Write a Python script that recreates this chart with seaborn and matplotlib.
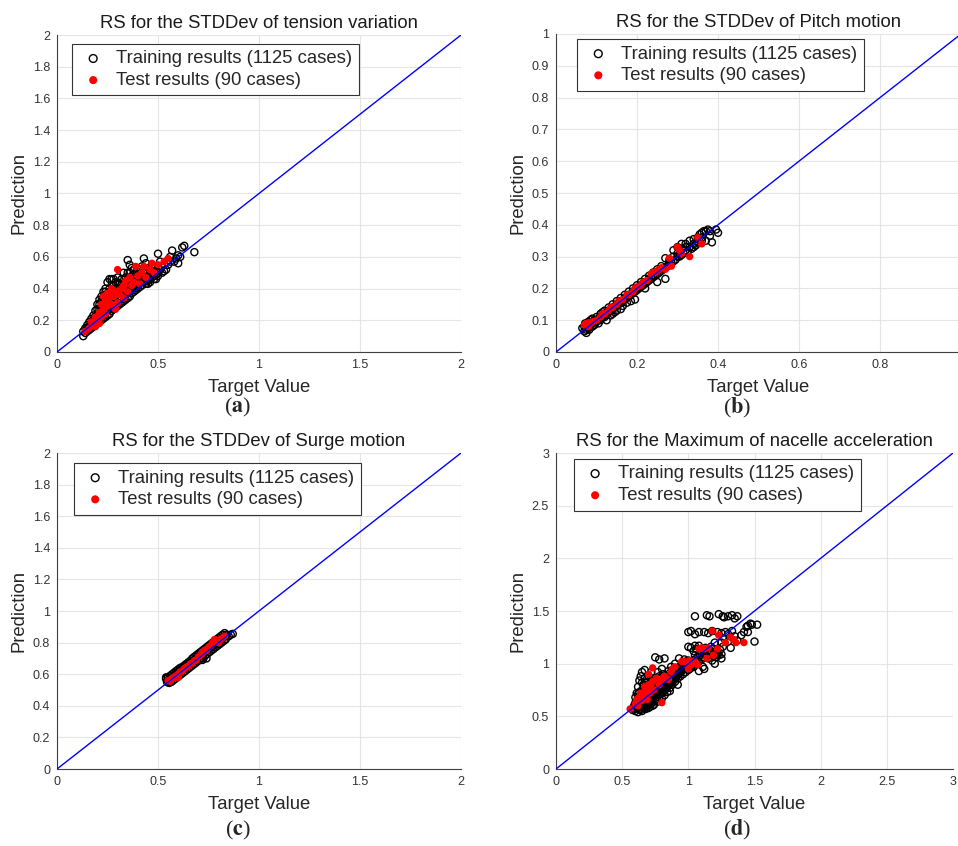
import matplotlib
matplotlib.use("Agg")
import matplotlib.pyplot as plt
import matplotlib.ticker as mticker
import seaborn as sns
import pandas as pd
import numpy as np

sns.set_style("white")
plt.rcParams["font.family"] = ["Liberation Sans", "DejaVu Sans"]
plt.rcParams["mathtext.fontset"] = "stix"

# ---------------- data ----------------
titles = ["RS for the STDDev of tension variation",
          "RS for the STDDev of Pitch motion",
          "RS for the STDDev of Surge motion",
          "RS for the Maximum of nacelle acceleration"]
captions = ["a", "b", "c", "d"]
train_label = "Training results (1125 cases)"
test_label = "Test results (90 cases)"
x_label = "Target Value"
y_label = "Prediction"

a_train = [(0.13,0.10),(0.13,0.13),(0.14,0.12),(0.14,0.15),(0.15,0.13),(0.15,0.17),(0.16,0.14),(0.16,0.19),
           (0.17,0.15),(0.17,0.21),(0.17,0.18),(0.18,0.16),(0.18,0.23),(0.18,0.20),(0.19,0.17),(0.19,0.26),
           (0.19,0.22),(0.20,0.18),(0.20,0.30),(0.20,0.24),(0.21,0.19),(0.21,0.33),(0.21,0.27),(0.22,0.20),
           (0.22,0.35),(0.22,0.29),(0.22,0.24),(0.23,0.21),(0.23,0.38),(0.23,0.31),(0.23,0.26),(0.24,0.22),
           (0.24,0.40),(0.24,0.34),(0.24,0.28),(0.25,0.23),(0.25,0.44),(0.25,0.37),(0.25,0.30),(0.26,0.24),
           (0.26,0.46),(0.26,0.40),(0.26,0.33),(0.27,0.26),(0.27,0.42),(0.27,0.35),(0.28,0.27),(0.28,0.46),
           (0.28,0.38),(0.28,0.31),(0.29,0.28),(0.29,0.44),(0.29,0.36),(0.30,0.29),(0.30,0.47),(0.30,0.40),
           (0.30,0.33),(0.31,0.30),(0.31,0.43),(0.31,0.37),(0.32,0.31),(0.32,0.46),(0.32,0.40),(0.32,0.34),
           (0.33,0.32),(0.33,0.50),(0.33,0.43),(0.33,0.37),(0.34,0.33),(0.34,0.47),(0.34,0.40),(0.35,0.34),
           (0.35,0.58),(0.35,0.50),(0.35,0.43),(0.35,0.38),(0.36,0.35),(0.36,0.46),(0.37,0.37),(0.37,0.53),
           (0.37,0.44),(0.38,0.38),(0.38,0.49),(0.38,0.42),(0.39,0.39),(0.39,0.46),(0.40,0.40),(0.40,0.52),
           (0.40,0.45),(0.41,0.41),(0.41,0.48),(0.42,0.42),(0.42,0.54),(0.43,0.59),(0.43,0.44),(0.43,0.50),
           (0.44,0.43),(0.44,0.47),(0.45,0.45),(0.45,0.53),(0.46,0.44),(0.46,0.49),(0.47,0.47),(0.47,0.55),
           (0.48,0.46),(0.48,0.51),(0.49,0.49),(0.50,0.62),(0.50,0.48),(0.50,0.53),(0.51,0.57),(0.52,0.50),
           (0.53,0.55),(0.54,0.52),(0.55,0.58),(0.56,0.60),(0.57,0.64),(0.58,0.57),(0.60,0.56),(0.60,0.61),
           (0.61,0.60),(0.62,0.66),(0.63,0.67),(0.68,0.63),(0.36,0.55),(0.39,0.50),(0.44,0.56),(0.27,0.46),
           (0.24,0.38),(0.30,0.44),
           (0.20,0.27),(0.21,0.22),(0.22,0.32),(0.23,0.34),(0.23,0.23),(0.24,0.30),(0.25,0.33),(0.25,0.26),
           (0.26,0.36),(0.26,0.29),(0.27,0.38),(0.27,0.31),(0.28,0.42),(0.28,0.34),(0.29,0.40),(0.29,0.32),
           (0.30,0.37),(0.31,0.33),(0.31,0.40),(0.32,0.37),(0.32,0.43),(0.33,0.35),(0.33,0.40),(0.34,0.37),
           (0.34,0.44),(0.35,0.40),(0.35,0.46),(0.36,0.38),(0.36,0.42),(0.36,0.50),(0.37,0.40),(0.37,0.48),
           (0.38,0.45),(0.38,0.52),(0.39,0.42),(0.39,0.43),(0.40,0.42),(0.40,0.48),(0.41,0.44),(0.41,0.52),
           (0.42,0.46),(0.42,0.44),(0.43,0.47),(0.44,0.45),(0.44,0.50),(0.45,0.48),(0.45,0.43),(0.46,0.47),
           (0.46,0.52),(0.47,0.50),(0.48,0.48),(0.48,0.53),(0.49,0.51),(0.49,0.46),(0.50,0.50),(0.51,0.52),
           (0.52,0.54),(0.53,0.51),(0.55,0.55),(0.56,0.57),(0.59,0.59),(0.19,0.19),(0.18,0.18),(0.17,0.16),
           (0.16,0.16),(0.15,0.15),(0.21,0.30),(0.20,0.21),(0.22,0.27),(0.24,0.26)]
a_test = [(0.14,0.13),(0.16,0.15),(0.17,0.19),(0.18,0.17),(0.19,0.22),(0.19,0.16),(0.20,0.20),(0.21,0.25),
          (0.21,0.18),(0.22,0.30),(0.22,0.22),(0.23,0.27),(0.24,0.32),(0.24,0.24),(0.25,0.29),(0.25,0.37),
          (0.26,0.34),(0.27,0.30),(0.27,0.40),(0.28,0.35),(0.29,0.38),(0.30,0.52),(0.30,0.31),(0.31,0.36),
          (0.32,0.40),(0.33,0.42),(0.33,0.34),(0.34,0.45),(0.35,0.38),(0.36,0.47),(0.37,0.42),(0.38,0.44),
          (0.39,0.54),(0.40,0.48),(0.41,0.43),(0.42,0.50),(0.43,0.54),(0.44,0.47),(0.46,0.52),(0.47,0.56),
          (0.48,0.50),(0.50,0.55),(0.53,0.57),(0.55,0.59),(0.29,0.27),(0.23,0.35)]

b_train = [(0.065,0.075),(0.07,0.065),(0.07,0.08),(0.072,0.09),(0.075,0.06),(0.075,0.07),(0.08,0.085),
           (0.08,0.095),(0.082,0.07),(0.085,0.10),(0.085,0.08),(0.09,0.09),(0.09,0.105),(0.095,0.085),
           (0.095,0.10),(0.10,0.11),(0.10,0.095),(0.105,0.105),(0.105,0.09),(0.11,0.12),(0.11,0.10),
           (0.115,0.11),(0.115,0.125),(0.12,0.115),(0.12,0.13),(0.125,0.12),(0.125,0.10),(0.13,0.14),
           (0.13,0.125),(0.135,0.13),(0.135,0.115),(0.14,0.15),(0.14,0.135),(0.145,0.14),(0.145,0.125),
           (0.15,0.16),(0.15,0.145),(0.15,0.13),(0.155,0.15),(0.16,0.17),(0.16,0.155),(0.165,0.16),
           (0.165,0.145),(0.17,0.18),(0.17,0.165),(0.175,0.17),(0.175,0.155),(0.18,0.19),(0.18,0.175),
           (0.185,0.18),(0.185,0.16),(0.19,0.20),(0.19,0.185),(0.195,0.19),(0.195,0.165),(0.20,0.21),
           (0.20,0.195),(0.205,0.20),(0.21,0.22),(0.21,0.205),(0.215,0.21),(0.22,0.23),(0.22,0.215),
           (0.225,0.22),(0.23,0.24),(0.23,0.225),(0.235,0.23),(0.24,0.25),(0.24,0.235),(0.245,0.24),
           (0.25,0.26),(0.25,0.245),(0.255,0.25),(0.26,0.27),(0.26,0.255),(0.265,0.26),(0.27,0.295),
           (0.27,0.265),(0.275,0.27),(0.28,0.29),(0.28,0.275),(0.285,0.28),(0.29,0.30),(0.29,0.285),
           (0.295,0.29),(0.30,0.31),(0.30,0.33),(0.305,0.30),(0.31,0.325),(0.31,0.305),(0.315,0.31),
           (0.32,0.34),(0.32,0.32),(0.325,0.315),(0.33,0.35),(0.33,0.33),(0.335,0.325),(0.34,0.355),
           (0.34,0.34),(0.345,0.335),(0.35,0.36),(0.35,0.345),(0.355,0.37),(0.36,0.375),(0.36,0.35),
           (0.365,0.38),(0.37,0.38),(0.37,0.35),(0.375,0.385),(0.38,0.38),(0.38,0.365),(0.395,0.385),
           (0.40,0.375),(0.385,0.345),(0.27,0.23),(0.25,0.22),
           (0.08,0.075),(0.09,0.08),(0.10,0.10),(0.11,0.105),(0.12,0.11),(0.13,0.13),(0.14,0.14),
           (0.15,0.15),(0.16,0.16),(0.17,0.17),(0.18,0.18),(0.19,0.19),(0.20,0.20),(0.21,0.21),
           (0.22,0.22),(0.23,0.23),(0.24,0.24),(0.26,0.26),(0.28,0.28),(0.30,0.30),(0.32,0.33),
           (0.34,0.33),(0.36,0.36),(0.16,0.135),(0.14,0.12),(0.22,0.20),(0.29,0.32),(0.31,0.34)]
b_test = [(0.07,0.085),(0.075,0.09),(0.08,0.08),(0.085,0.09),(0.09,0.095),(0.10,0.10),(0.11,0.11),
          (0.115,0.12),(0.12,0.12),(0.13,0.13),(0.135,0.14),(0.14,0.14),(0.15,0.15),(0.155,0.16),
          (0.165,0.165),(0.175,0.18),(0.18,0.18),(0.195,0.20),(0.20,0.205),(0.21,0.21),(0.215,0.22),
          (0.225,0.225),(0.235,0.245),(0.24,0.25),(0.245,0.25),(0.25,0.255),(0.26,0.265),(0.27,0.26),
          (0.28,0.295),(0.285,0.27),(0.30,0.33),(0.305,0.32),(0.31,0.31),(0.33,0.30),(0.35,0.36),
          (0.36,0.34),(0.255,0.26),(0.19,0.19)]

c_train = [(0.54,0.57),(0.54,0.58),(0.545,0.55),(0.55,0.56),(0.55,0.58),(0.555,0.545),(0.56,0.59),
           (0.56,0.57),(0.565,0.55),(0.57,0.58),(0.57,0.60),(0.575,0.56),(0.58,0.59),(0.58,0.61),
           (0.585,0.57),(0.59,0.60),(0.59,0.62),(0.595,0.58),(0.60,0.61),(0.60,0.63),(0.605,0.59),
           (0.61,0.62),(0.61,0.64),(0.615,0.60),(0.62,0.63),(0.62,0.645),(0.625,0.61),(0.63,0.64),
           (0.63,0.655),(0.635,0.62),(0.64,0.65),(0.64,0.665),(0.645,0.63),(0.65,0.66),(0.65,0.675),
           (0.655,0.64),(0.66,0.67),(0.66,0.685),(0.665,0.65),(0.67,0.68),(0.67,0.70),(0.675,0.66),
           (0.68,0.69),(0.68,0.71),(0.685,0.67),(0.69,0.70),(0.69,0.72),(0.695,0.68),(0.70,0.71),
           (0.70,0.73),(0.705,0.69),(0.71,0.72),(0.71,0.74),(0.715,0.70),(0.72,0.73),(0.72,0.75),
           (0.725,0.70),(0.73,0.74),(0.73,0.76),(0.735,0.72),(0.74,0.75),(0.74,0.77),(0.745,0.73),
           (0.75,0.76),(0.75,0.78),(0.755,0.74),(0.76,0.77),(0.76,0.79),(0.765,0.75),(0.77,0.78),
           (0.77,0.80),(0.775,0.76),(0.78,0.79),(0.78,0.81),(0.785,0.77),(0.79,0.80),(0.79,0.82),
           (0.795,0.78),(0.80,0.81),(0.80,0.83),(0.805,0.79),(0.81,0.82),(0.81,0.84),(0.815,0.80),
           (0.82,0.83),(0.82,0.85),(0.825,0.81),(0.83,0.84),(0.83,0.86),(0.835,0.82),(0.84,0.85),
           (0.85,0.84),(0.86,0.85),(0.87,0.855),(0.74,0.70),(0.72,0.69)]
c_test = [(0.55,0.56),(0.56,0.555),(0.57,0.575),(0.58,0.58),(0.59,0.59),(0.60,0.60),(0.61,0.615),
          (0.62,0.62),(0.63,0.635),(0.64,0.645),(0.65,0.65),(0.66,0.665),(0.67,0.67),(0.68,0.685),
          (0.69,0.69),(0.70,0.71),(0.71,0.72),(0.72,0.74),(0.73,0.75),(0.74,0.75),(0.75,0.77),
          (0.76,0.78),(0.77,0.80),(0.78,0.82),(0.79,0.81),(0.80,0.80),(0.81,0.82),(0.82,0.83),
          (0.83,0.84),(0.72,0.73),(0.60,0.58)]

d_train = [(0.58,0.56),(0.59,0.60),(0.60,0.55),(0.60,0.63),(0.60,0.68),(0.61,0.58),(0.61,0.72),(0.62,0.54),
           (0.62,0.62),(0.62,0.78),(0.63,0.57),(0.63,0.66),(0.63,0.84),(0.64,0.60),(0.64,0.70),(0.64,0.88),
           (0.65,0.55),(0.65,0.64),(0.65,0.75),(0.65,0.92),(0.66,0.58),(0.66,0.68),(0.66,0.80),(0.67,0.62),
           (0.67,0.72),(0.67,0.86),(0.67,0.94),(0.68,0.57),(0.68,0.66),(0.68,0.77),(0.69,0.60),(0.69,0.70),
           (0.69,0.83),(0.70,0.63),(0.70,0.74),(0.70,0.88),(0.71,0.59),(0.71,0.67),(0.71,0.79),(0.72,0.62),
           (0.72,0.71),(0.72,0.92),(0.73,0.65),(0.73,0.76),(0.73,0.85),(0.74,0.61),(0.74,0.69),(0.74,0.80),
           (0.75,0.66),(0.75,0.73),(0.75,1.06),(0.76,0.70),(0.76,0.84),(0.77,0.64),(0.77,0.76),(0.77,0.92),
           (0.78,0.68),(0.78,1.04),(0.78,0.80),(0.79,0.72),(0.79,0.87),(0.80,0.67),(0.80,0.76),(0.80,0.95),
           (0.81,0.73),(0.81,0.83),(0.82,0.70),(0.82,0.79),(0.82,1.05),(0.83,0.76),(0.83,0.88),(0.84,0.73),
           (0.84,0.82),(0.85,0.79),(0.85,0.93),(0.86,0.77),(0.86,0.86),(0.87,0.82),(0.87,0.97),(0.88,0.80),
           (0.88,0.89),(0.89,0.85),(0.90,0.83),(0.90,0.92),(0.90,1.00),(0.91,0.88),(0.92,0.86),(0.92,0.95),
           (0.93,0.90),(0.94,0.88),(0.94,0.98),(0.95,0.93),(0.96,0.90),(0.96,1.01),(0.97,0.95),(0.98,0.92),
           (0.98,1.02),(0.99,0.97),(1.00,0.94),(1.00,1.03),(1.00,1.16),(1.01,0.99),(1.02,0.96),(1.02,1.15),
           (1.03,1.01),(1.04,0.97),(1.04,1.12),(1.05,1.04),(1.06,1.00),(1.06,1.14),(1.07,1.06),(1.08,1.02),
           (1.08,1.17),(1.09,1.08),(1.10,1.04),(1.10,1.12),(1.11,0.97),(1.12,1.10),(1.13,1.15),(1.14,1.07),
           (1.15,1.12),(1.16,1.09),(1.17,1.16),(1.18,1.11),(1.18,1.03),(1.19,1.14),(1.20,1.10),(1.21,1.06),
           (1.22,1.12),(1.23,1.08),(1.24,1.13),(1.25,1.09),(1.26,1.16),
           (1.00,1.30),(1.02,1.31),(1.05,1.28),(1.08,1.30),(1.12,1.30),(1.15,1.29),(1.18,1.31),(1.22,1.30),
           (1.25,1.29),(1.28,1.30),(1.30,1.28),(1.33,1.31),(1.35,1.26),(1.37,1.22),(1.40,1.27),(1.42,1.30),
           (1.45,1.30),(1.50,1.21),(1.45,1.36),(1.47,1.38),(1.48,1.37),(1.52,1.37),(1.44,1.35),(1.30,1.21),
           (1.27,1.24),(1.20,1.20),(1.25,1.20),(1.32,1.15),
           (1.05,1.45),(1.14,1.46),(1.16,1.45),(1.23,1.47),(1.26,1.45),(1.30,1.45),(1.33,1.46),(1.35,1.43),
           (1.37,1.45),(1.27,1.44),
           (0.93,1.05),(0.97,1.04),(1.05,1.17),(1.08,0.93),(0.86,0.74),(0.92,0.80),(1.12,0.95),(1.20,1.00),
           (1.25,1.05),
           (0.60,0.60),(0.61,0.64),(0.62,0.58),(0.62,0.68),(0.63,0.61),(0.63,0.73),(0.64,0.56),(0.64,0.65),
           (0.65,0.60),(0.65,0.70),(0.65,0.82),(0.66,0.63),(0.66,0.74),(0.67,0.58),(0.67,0.67),(0.68,0.62),
           (0.68,0.71),(0.68,0.82),(0.69,0.65),(0.69,0.75),(0.70,0.58),(0.70,0.68),(0.70,0.80),(0.71,0.63),
           (0.71,0.73),(0.72,0.66),(0.72,0.76),(0.72,0.84),(0.73,0.70),(0.73,0.60),(0.74,0.73),(0.74,0.86),
           (0.75,0.70),(0.75,0.78),(0.76,0.66),(0.76,0.75),(0.77,0.70),(0.77,0.82),(0.78,0.74),(0.78,0.88),
           (0.79,0.78),(0.80,0.72),(0.80,0.82),(0.81,0.78),(0.81,0.90),(0.82,0.75),(0.82,0.85),(0.83,0.80),
           (0.84,0.78),(0.84,0.88),(0.85,0.83),(0.86,0.81),(0.86,0.91),(0.87,0.86),(0.88,0.84),(0.88,0.94),
           (0.89,0.89),(0.90,0.87),(0.91,0.93),(0.92,0.90),(0.93,0.94),(0.94,0.92),(0.95,0.97),(0.96,0.95),
           (0.97,0.99),(0.98,0.97),(0.99,1.01),(1.01,0.95),(1.03,0.98),(1.05,1.08),(1.07,1.03),(1.09,1.12),
           (1.11,1.06),(1.13,1.09),(1.15,1.05),(1.16,1.13),(1.19,1.07),(1.22,1.09),(0.62,0.71),(0.60,0.57)]
d_test = [(0.56,0.57),(0.60,0.62),(0.61,0.66),(0.62,0.60),(0.63,0.68),(0.64,0.72),(0.65,0.65),(0.66,0.70),
          (0.67,0.78),(0.68,0.74),(0.69,0.66),(0.70,0.80),(0.70,0.90),(0.71,0.72),(0.72,0.77),(0.73,0.96),
          (0.73,0.83),(0.74,0.75),(0.76,0.86),(0.78,0.80),(0.80,0.63),(0.80,0.85),(0.82,0.88),(0.85,0.85),
          (0.87,0.92),(0.88,0.95),(0.90,0.97),(0.95,1.02),(0.97,1.02),(1.00,0.95),(1.02,0.99),(1.05,1.02),
          (1.07,0.99),(1.08,1.14),(1.10,1.15),(1.12,1.14),(1.15,1.15),(1.14,1.05),(1.18,1.31),(1.19,1.08),
          (1.22,1.14),(1.23,1.27),(1.28,1.20),(1.32,1.25),(1.34,1.23),(1.36,1.20),(1.42,1.20),(1.01,1.03)]

limits = [2.0, 1.0, 2.0, 3.0]
x_ticks = [[0, 0.5, 1, 1.5, 2], [0, 0.2, 0.4, 0.6, 0.8], [0, 0.5, 1, 1.5, 2], [0, 0.5, 1, 1.5, 2, 2.5, 3]]
y_ticks = [[0, 0.2, 0.4, 0.6, 0.8, 1, 1.2, 1.4, 1.6, 1.8, 2],
           [0, 0.1, 0.2, 0.3, 0.4, 0.5, 0.6, 0.7, 0.8, 0.9, 1],
           [0, 0.2, 0.4, 0.6, 0.8, 1, 1.2, 1.4, 1.6, 1.8, 2],
           [0, 0.5, 1, 1.5, 2, 2.5, 3]]

# ---------------- layout ----------------
W, H = 958, 846
fig = plt.figure(figsize=(W / 100, H / 100), dpi=100)
# axes boxes in pixels: (left, top, right, bottom)
boxes = [(57, 35, 461, 352), (556, 34, 961, 352), (57, 453, 461, 769), (556, 453, 953, 769)]
legend_anchor = [(0.037, 0.972), (0.052, 0.984), (0.042, 0.968), (0.045, 0.981)]
caption_pos = [(238, 407), (737, 408), (238, 830), (737, 830)]

panels = [(a_train, a_test), (b_train, b_test), (c_train, c_test), (d_train, d_test)]
axis_col = "#404040"
fmt = mticker.FuncFormatter(lambda v, p: f"{v:g}")

for i, ((tr, te), box) in enumerate(zip(panels, boxes)):
    l, t, r, b = box
    ax = fig.add_axes([l / W, 1 - b / H, (r - l) / W, (b - t) / H])
    dtr = pd.DataFrame(tr, columns=["target", "pred"])
    dte = pd.DataFrame(te, columns=["target", "pred"])
    sns.scatterplot(data=dtr, x="target", y="pred", ax=ax, marker="o", s=26,
                    facecolors="none", edgecolor="black", linewidth=1.0,
                    label=train_label, zorder=2)
    sns.scatterplot(data=dte, x="target", y="pred", ax=ax, marker="o", s=28,
                    color="red", edgecolor="none", linewidth=0,
                    label=test_label, zorder=3)
    ax.axline((0, 0), slope=1, color="blue", lw=1.0, zorder=4)
    lim = limits[i]
    ax.set_xlim(0, lim)
    ax.set_ylim(0, lim)
    ax.set_xticks(x_ticks[i])
    ax.set_yticks(y_ticks[i])
    ax.xaxis.set_major_formatter(fmt)
    ax.yaxis.set_major_formatter(fmt)
    ax.grid(True, color="#e5e5e5", lw=0.8)
    ax.set_axisbelow(True)
    for side in ["top", "right"]:
        ax.spines[side].set_visible(False)
    for side in ["left", "bottom"]:
        ax.spines[side].set_color(axis_col)
        ax.spines[side].set_linewidth(0.8)
    ax.tick_params(direction="in", length=3, width=0.8, color=axis_col,
                   labelsize=9, labelcolor="#333333", pad=5)
    ax.set_title(titles[i], fontsize=13.3, color="#1a1a1a", pad=5)
    ax.set_xlabel(x_label, fontsize=13.3, color="#262626", labelpad=6)
    ax.set_ylabel(y_label, fontsize=13.3, color="#262626", labelpad=4)
    leg = ax.legend(loc="upper left", bbox_to_anchor=legend_anchor[i], borderaxespad=0,
                    fontsize=13.3, frameon=True, fancybox=False, framealpha=1,
                    edgecolor="#333333", handlelength=1.6, handletextpad=0.45,
                    borderpad=0.35, labelspacing=0.25, markerscale=1.1)
    leg.get_frame().set_linewidth(0.8)
    fig.text(caption_pos[i][0] / W, 1 - caption_pos[i][1] / H,
             r"($\mathbf{" + captions[i] + r"}$)", fontsize=16,
             ha="center", va="center", family=["Liberation Serif", "DejaVu Serif"])

fig.savefig("out.png", dpi=100)
